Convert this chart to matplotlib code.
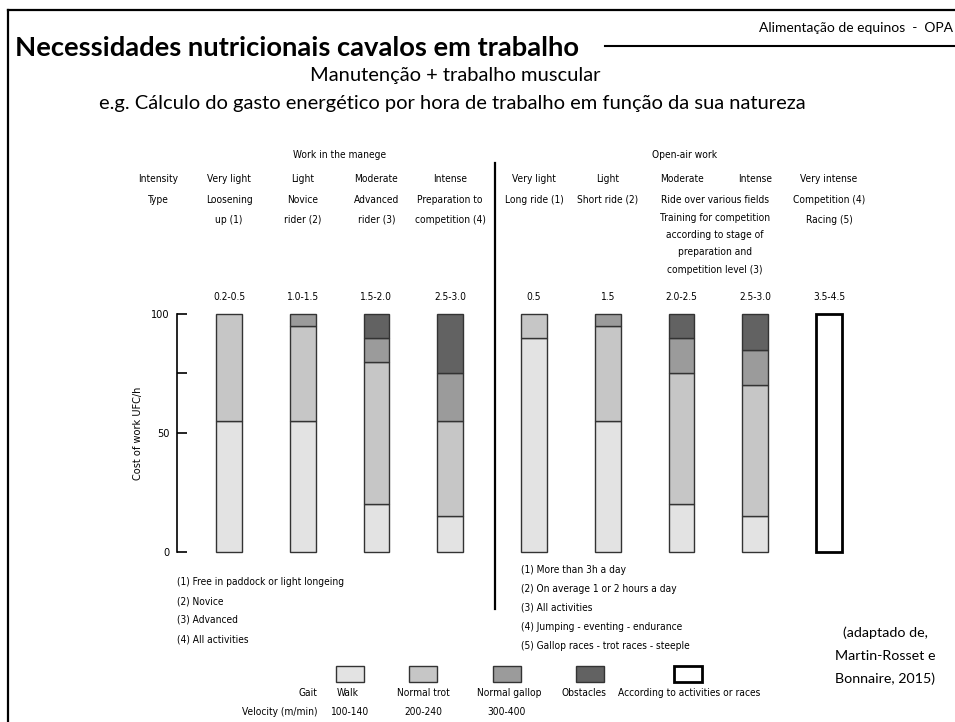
import matplotlib
matplotlib.use("Agg")
import matplotlib.pyplot as plt
from matplotlib import font_manager
from matplotlib.font_manager import FontProperties
from matplotlib.lines import Line2D
from matplotlib.patches import Rectangle
from matplotlib.transforms import blended_transform_factory

# ---- data ----
intensity = ["Very light", "Light", "Moderate", "Intense",
             "Very light", "Light", "Moderate", "Intense", "Very intense"]
work_type = [["Loosening", "up (1)"], ["Novice", "rider (2)"], ["Advanced", "rider (3)"],
             ["Preparation to", "competition (4)"], ["Long ride (1)"], ["Short ride (2)"],
             [], [], ["Competition (4)", "Racing (5)"]]
ufc_range = ["0.2-0.5", "1.0-1.5", "1.5-2.0", "2.5-3.0",
             "0.5", "1.5", "2.0-2.5", "2.5-3.0", "3.5-4.5"]

# share of the hourly cost (%) per gait
walk = [55, 55, 20, 15, 90, 55, 20, 15, 0]
trot = [45, 40, 60, 40, 10, 40, 55, 55, 0]
gallop = [0, 5, 10, 20, 0, 5, 15, 15, 0]
obstacles = [0, 0, 10, 25, 0, 0, 10, 15, 0]
activities = [0, 0, 0, 0, 0, 0, 0, 0, 100]

gaits = ["Walk", "Normal trot", "Normal gallop", "Obstacles",
         "According to activities or races"]
velocity = ["100-140", "200-240", "300-400", "", ""]
colors = ["#e3e3e3", "#c6c6c6", "#9b9b9b", "#626262", "white"]

notes_manege = ["(1) Free in paddock or light longeing", "(2) Novice",
                "(3) Advanced", "(4) All activities"]
notes_open = ["(1) More than 3h a day", "(2) On average 1 or 2 hours a day",
              "(3) All activities", "(4) Jumping - eventing - endurance",
              "(5) Gallop races - trot races - steeple"]
moderate_open = ["Ride over various fields", "Training for competition",
                 "according to stage of", "preparation and", "competition level (3)"]


def narrow_font():
    # prefer a condensed face for the chart texts, size tuned per face
    files = [f.fname for f in font_manager.fontManager.ttflist]
    for key, size in [("LiberationSansNarrow-Regular", 8.6),
                      ("NotoSans-CondensedRegular", 8.4),
                      ("NotoSans-Condensed.", 8.4),
                      ("DejaVuSansCondensed.", 7.3)]:
        for fn in files:
            if key in fn:
                return FontProperties(fname=fn), size
    return FontProperties(family="Roboto"), 7.3


NFP, NS = narrow_font()
SLIDE = "Lato"

W, H = 955, 722
fig = plt.figure(figsize=(W / 100, H / 100), dpi=100)


def fx(px):
    return px / W


def fy(py):
    return 1 - py / H


def ntext(px, py, s, **kw):
    kw.setdefault("ha", "center")
    kw.setdefault("va", "center")
    fig.text(fx(px), fy(py), s, fontproperties=NFP, fontsize=NS, **kw)


def stext(px, py, s, size, **kw):
    kw.setdefault("ha", "center")
    kw.setdefault("va", "center")
    fig.text(fx(px), fy(py), s, family=SLIDE, fontsize=size, **kw)


# slide frame and header
fig.add_artist(Line2D([fx(8), fx(8)], [fy(10), 0], color="black", lw=1.6))
fig.add_artist(Line2D([fx(8), 1], [fy(10), fy(10)], color="black", lw=1.6))
fig.add_artist(Line2D([fx(605), 1], [fy(46), fy(46)], color="black", lw=1.5))
stext(953, 28, "Alimentação de equinos  -  OPA", 10, ha="right")
stext(15, 48, "Necessidades nutricionais cavalos em trabalho", 19.7, ha="left",
      fontweight="bold")
stext(455, 76, "Manutenção + trabalho muscular", 14.5)
stext(452, 104, "e.g. Cálculo do gasto energético por hora de trabalho em função da sua natureza", 14.5)

# ---- bars ----
ax = fig.add_axes([fx(176.7), fy(563.6), fx(900) - fx(176.7), fy(302.1) - fy(563.6)])
ax.set_xlim((176.7 - 229) / 73.7, (900 - 229) / 73.7)
ax.set_ylim(-5, 105)
ax.patch.set_visible(False)

xpos = [i if i < 4 else i + 0.14 for i in range(len(intensity))]
bottom = [0] * len(xpos)
for series, col in zip([walk, trot, gallop, obstacles, activities], colors):
    for i, v in enumerate(series):
        if v > 0:
            last = col == "white"
            ax.bar(xpos[i], v, bottom=bottom[i], width=0.35, color=col,
                   edgecolor="black" if last else "#333333",
                   linewidth=2.0 if last else 1.0)
            bottom[i] += v

for s in ["top", "right", "bottom"]:
    ax.spines[s].set_visible(False)
ax.spines["left"].set_bounds(0, 100)
ax.spines["left"].set_linewidth(1.2)
ax.set_xticks([])
ax.set_yticks([0, 50, 75, 100])
ax.set_yticklabels(["0", "50", "", "100"], fontproperties=NFP, fontsize=NS + 0.5)
ax.tick_params(axis="y", direction="in", length=7.5, width=1.2, pad=5)
ax.set_ylabel("Cost of work UFC/h", fontproperties=NFP, fontsize=NS + 0.5, labelpad=6)

# column headings placed over each bar
tr = blended_transform_factory(ax.transData, fig.transFigure)
for i, x in enumerate(xpos):
    rows = [(179, intensity[i]), (297, ufc_range[i])]
    rows += [(200 + 20 * j, line) for j, line in enumerate(work_type[i])]
    for py, s in rows:
        ax.text(x, fy(py), s, transform=tr, ha="center", va="center",
                fontproperties=NFP, fontsize=NS)

for j, line in enumerate(moderate_open):
    ntext(715, 200 + 17.5 * j, line)

ntext(158, 179, "Intensity")
ntext(158, 200, "Type")
ntext(340, 155, "Work in the manege")
ntext(685, 155, "Open-air work")

# divider between manege and open-air work
fig.add_artist(Line2D([fx(495), fx(495)], [fy(163), fy(609)], color="black", lw=1.6))

# footnotes
for j, s in enumerate(notes_manege):
    ntext(177, 582 + 19 * j, s, ha="left")
for j, s in enumerate(notes_open):
    ntext(521, 570 + 19 * j, s, ha="left")

# gait legend
box_x = [350, 423, 507, 590, 688]
label_x = [348, 423, 509, 584, 689]
for k, g in enumerate(gaits):
    last = k == len(gaits) - 1
    fig.add_artist(Rectangle((fx(box_x[k] - 14), fy(682)), 28 / W, 16 / H,
                             facecolor=colors[k], edgecolor="black" if last else "#333333",
                             lw=2.0 if last else 1.0, transform=fig.transFigure))
    ntext(label_x[k], 693, g)
    ntext(box_x[k], 712, velocity[k])
ntext(317, 693, "Gait", ha="right")
ntext(317, 712, "Velocity (m/min)", ha="right")

# source
for j, s in enumerate(["(adaptado de,", "Martin-Rosset e", "Bonnaire, 2015)"]):
    stext(885, 633 + 23 * j, s, 10.3)

fig.savefig("out.png", dpi=100)
